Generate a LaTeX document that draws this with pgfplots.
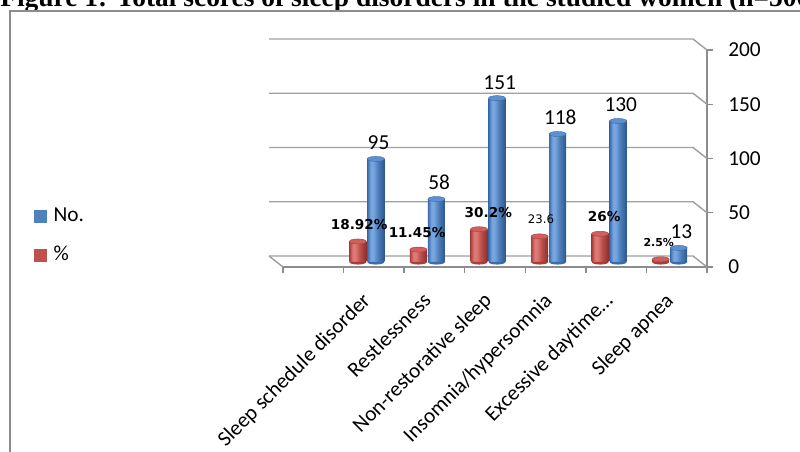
\documentclass[border=0pt]{standalone}
\usepackage{pgfplots}
\pgfplotsset{compat=1.18}
\usepackage{pgfplotstable}
\usepackage{fontspec}
\setmainfont{Carlito}
\newfontfamily\dejavu{DejaVu Sans}
\newfontfamily\titlefont{Liberation Serif}
\definecolor{bD}{HTML}{3A6CAD}
\definecolor{bM}{HTML}{4F81BD}
\definecolor{bL}{HTML}{78A5DE}
\definecolor{bDD}{HTML}{2C568C}
\definecolor{bT}{HTML}{5E8FCF}
\definecolor{rD}{HTML}{A83E3B}
\definecolor{rM}{HTML}{C0504D}
\definecolor{rL}{HTML}{DD7A76}
\definecolor{rDD}{HTML}{8A2F2C}
\definecolor{rT}{HTML}{CF605C}
\definecolor{gridc}{HTML}{A0A0A0}
\definecolor{axc}{HTML}{8C8C8C}
\pgfdeclarehorizontalshading{cylblue}{100bp}{color(0bp)=(bD); color(25bp)=(bD); color(35bp)=(bL); color(42bp)=(bL); color(55bp)=(bM); color(75bp)=(bDD); color(100bp)=(bDD)}
\pgfdeclarehorizontalshading{cylred}{100bp}{color(0bp)=(rD); color(25bp)=(rD); color(35bp)=(rL); color(42bp)=(rL); color(55bp)=(rM); color(75bp)=(rDD); color(100bp)=(rDD)}
\pgfdeclareplotmark{lowhalf}{%
  \pgfpathmoveto{\pgfqpoint{-\pgfplotmarksize}{0pt}}%
  \pgfpatharc{180}{360}{\pgfplotmarksize and 0.3\pgfplotmarksize}%
  \pgfpathclose\pgfusepathqfill}

\pgfplotstableread{
x no nolab
1 95 95
2 58 58
3 151 151
4 118 118
5 130 130
6 13 13
}\bluedata
\pgfplotstableread{
x pct
1 18.92
2 11.45
3 30.2
4 23.6
5 26
6 2.5
}\reddata

\pgfplotsset{
  redbar/.style={forget plot, ybar, bar width=12.75pt, bar shift=-6.75pt, xshift=-5.25pt, yshift=3.75pt, draw=none, shading=cylred, shade},
  bluebar/.style={forget plot, ybar, bar width=12.75pt, bar shift=6.75pt, xshift=-5.25pt, yshift=3.75pt, draw=none, shading=cylblue, shade},
}

\begin{document}
\begin{tikzpicture}
\useasboundingbox (0,0) rectangle (600pt,339pt);
\clip (0,0) rectangle (600pt,339pt);
% title (partly cut off at the top)
\node[anchor=base west, inner sep=0pt, font=\titlefont\bfseries\fontsize{20.6}{20.6}\selectfont] at (0pt,333.75pt) {Figure 1: Total scores of sleep disorders in the studied women (n=500)};
% chart frame
\draw[axc, line width=1.5pt] (7.5pt,0pt) -- (7.5pt,330.75pt) -- (605pt,330.75pt);
\begin{axis}[
  at={(212.25pt,138.75pt)}, anchor=south west,
  scale only axis, width=318pt, height=162.75pt,
  xmin=-0.5, xmax=6.5, ymin=0, ymax=200,
  axis x line*=bottom, axis y line*=right,
  axis line style={draw=axc, line width=1pt},
  xtick={0,...,6},
  xticklabels={,Sleep schedule disorder,Restlessness,Non-restorative sleep,Insomnia/hypersomnia,Excessive daytime…,Sleep apnea},
  major x tick style={draw=none},
  minor xtick={-0.5,0.5,...,6.5},
  ytick={0,50,...,200},
  /pgf/number format/assume math mode=true,
  tick align=outside,
  major tick length=4.5pt, minor tick length=4.5pt,
  every tick/.style={axc, line width=1pt},
  xticklabel style={xshift=-9.65pt, yshift=-13.6pt, rotate=45, anchor=north east, inner sep=0pt, font=\fontsize{16}{16}\selectfont, text=black},
  yticklabel style={anchor=west, inner sep=0pt, font=\fontsize{16}{16}\selectfont, text=black, xshift=11.25pt},
  clip=false,
  legend style={at={(-0.587,0.145)}, anchor=west, draw=none, fill=none, inner sep=0pt,
     row sep=15pt, font=\fontsize{16}{16}\selectfont,
     nodes={inner sep=0pt, text height=11pt, text depth=3pt}},
  legend cell align=left,
]
% 3D back wall gridlines and floor
\pgfplotsinvokeforeach{0,50,100,150,200}{
  \draw[gridc, line width=1.1pt] ([xshift=-10.5pt,yshift=8.25pt]axis cs:-0.5,#1) -- ([xshift=-10.5pt,yshift=8.25pt]axis cs:6.5,#1) -- (axis cs:6.5,#1);
}
\draw[gridc, line width=1.1pt] ([xshift=-10.5pt,yshift=8.25pt]axis cs:-0.5,0) -- (axis cs:-0.5,0);

% legend entries
\addlegendimage{legend image code/.code={\fill[bM] (0pt,-4.5pt) rectangle (9pt,4.5pt); \path (14pt,0);}}
\addlegendentry{No.}
\addlegendimage{legend image code/.code={\fill[rM] (0pt,-4.5pt) rectangle (9pt,4.5pt); \path (14pt,0);}}
\addlegendentry{\%}

% rounded bottoms of the cylinders
\addplot[forget plot, only marks, mark=lowhalf, mark size=6.375pt, mark options={fill=rD, draw=none}, xshift=-12pt, yshift=3.75pt] table[x=x,y expr=0]{\reddata};
\addplot[forget plot, only marks, mark=lowhalf, mark size=6.375pt, mark options={fill=bD, draw=none}, xshift=1.5pt, yshift=3.75pt] table[x=x,y expr=0]{\bluedata};

% red cylinders (%)
\addplot[redbar] coordinates {(1,18.92)};
\addplot[redbar] coordinates {(2,11.45)};
\addplot[redbar] coordinates {(3,30.2)};
\addplot[redbar] coordinates {(4,23.6)};
\addplot[redbar] coordinates {(5,26)};
\addplot[redbar] coordinates {(6,2.5)};
% blue cylinders (No.)
\addplot[bluebar] coordinates {(1,95)};
\addplot[bluebar] coordinates {(2,58)};
\addplot[bluebar] coordinates {(3,151)};
\addplot[bluebar] coordinates {(4,118)};
\addplot[bluebar] coordinates {(5,130)};
\addplot[bluebar] coordinates {(6,13)};

% cylinder tops
\addplot[forget plot, only marks, mark=*, mark size=6.375pt, mark options={yscale=0.3, fill=rT, draw=rD, line width=0.3pt}, xshift=-12pt, yshift=3.75pt] table[x=x,y=pct]{\reddata};
\addplot[forget plot, only marks, mark=*, mark size=6.375pt, mark options={yscale=0.3, fill=bT, draw=bD, line width=0.3pt}, xshift=1.5pt, yshift=3.75pt] table[x=x,y=no]{\bluedata};

% value labels
\addplot[forget plot, draw=none, mark=none, xshift=3.5pt, yshift=3.75pt,
  nodes near coords, point meta=explicit symbolic,
  every node near coord/.style={anchor=south, inner sep=0pt, yshift=6.5pt, font=\fontsize{16}{16}\selectfont, text=black}]
  table[x=x,y=no,meta=nolab]{\bluedata};
\addplot[forget plot, draw=none, mark=none, xshift=-11pt, yshift=3.75pt,
  nodes near coords, point meta=explicit symbolic,
  every node near coord/.style={anchor=center, inner sep=0pt, yshift=12.75pt, text=black}]
  coordinates {
  (1,18.92) [\dejavu\bfseries\fontsize{10.2}{10.2}\selectfont 18.92\%]
  (2,11.45) [\dejavu\bfseries\fontsize{10.2}{10.2}\selectfont 11.45\%\hspace*{4pt}]
  (3,30.2) [\hspace*{12pt}\dejavu\bfseries\fontsize{10.2}{10.2}\selectfont 30.2\%]
  (4,23.6) [\dejavu\fontsize{8.8}{8.8}\selectfont 23.6]
  (5,26) [\hspace*{4pt}\dejavu\bfseries\fontsize{10.2}{10.2}\selectfont 26\%]
  (6,2.5) [\dejavu\bfseries\fontsize{8.2}{8.2}\selectfont 2.5\%\hspace*{5pt}]
  };
\end{axis}
\end{tikzpicture}
\end{document}
